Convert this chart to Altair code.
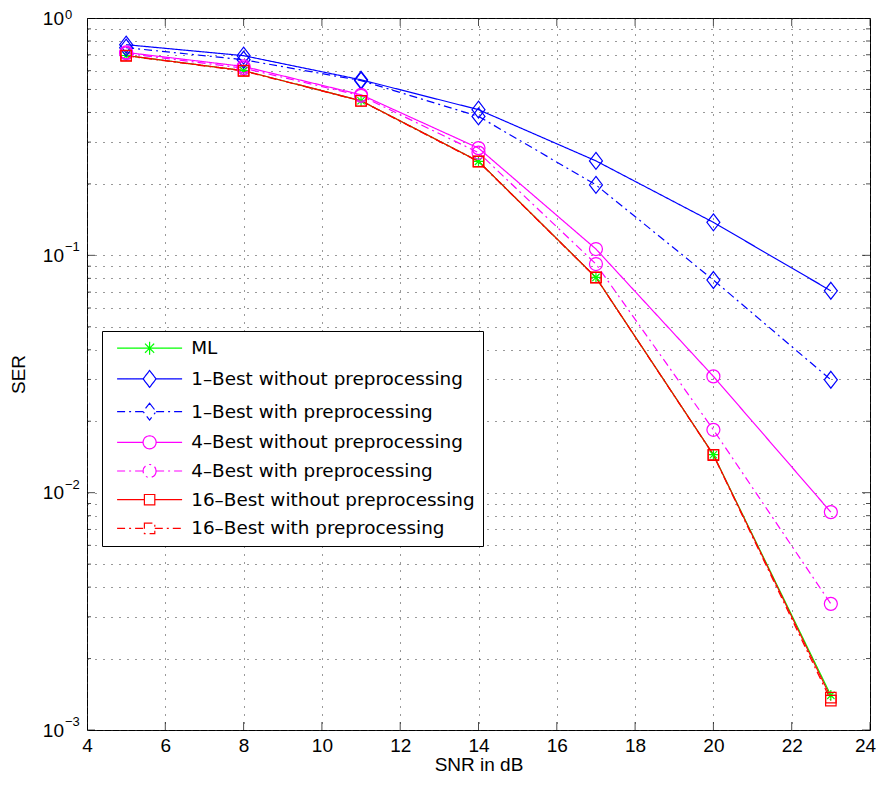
import altair as alt
import pandas as pd

# ---------------- data ----------------
snr = [5, 8, 11, 14, 17, 20, 23]

series_names = [
    "ML",
    "1–Best without preprocessing",
    "1–Best with preprocessing",
    "4–Best without preprocessing",
    "4–Best with preprocessing",
    "16–Best without preprocessing",
    "16–Best with preprocessing",
]
ser_ml = [0.695, 0.600, 0.448, 0.249, 0.0807, 0.01445, 0.00140]
ser_1best_wo = [0.772, 0.694, 0.549, 0.411, 0.250, 0.1377, 0.0709]
ser_1best_w = [0.750, 0.667, 0.545, 0.385, 0.198, 0.0787, 0.0299]
ser_4best_wo = [0.716, 0.625, 0.475, 0.283, 0.1063, 0.0309, 0.00828]
ser_4best_w = [0.710, 0.615, 0.470, 0.271, 0.0919, 0.0184, 0.0034]
ser_16best_wo = [0.695, 0.600, 0.448, 0.249, 0.0807, 0.01445, 0.00137]
ser_16best_w = [0.693, 0.598, 0.447, 0.248, 0.0805, 0.01440, 0.00133]
series_values = [ser_ml, ser_1best_wo, ser_1best_w, ser_4best_wo,
                 ser_4best_w, ser_16best_wo, ser_16best_w]

x_ticks = [4, 6, 8, 10, 12, 14, 16, 18, 20, 22, 24]
y_decades = [1, 0.1, 0.01, 0.001]
y_decade_base = "10"
y_decade_exponents = ["0", "−1", "−2", "−3"]
y_minor = [0.002, 0.003, 0.004, 0.005, 0.006, 0.007, 0.008, 0.009,
           0.02, 0.03, 0.04, 0.05, 0.06, 0.07, 0.08, 0.09,
           0.2, 0.3, 0.4, 0.5, 0.6, 0.7, 0.8, 0.9]

# ---------------- styles ----------------
series_colors = ["#00ff00", "#0000ff", "#0000ff", "#ff00ff", "#ff00ff", "#ff0000", "#ff0000"]
solid = [1, 0]
dashdot = [8, 4, 2, 4]
series_dash = [solid, solid, dashdot, solid, dashdot, solid, dashdot]
series_marker = ["asterisk", "diamond", "diamond", "circle", "circle", "square", "square"]

marker_paths = {
    "asterisk": "M-1,0H1M0,-1V1M-0.7,-0.7L0.7,0.7M-0.7,0.7L0.7,-0.7",
    "diamond": "M0,-1.3L1,0L0,1.3L-1,0Z",
    "circle": "circle",
    "square": "square",
}
marker_sizes = {"asterisk": 110, "diamond": 169, "circle": 169, "square": 110}

legend_paths = {
    "asterisk": "M-1,0H9M3,0H5M4,-1V1M3.3,-0.7L4.7,0.7M3.3,0.7L4.7,-0.7",
    "diamond": "M-1,0H3M5,0H9M4,-1.3L5,0L4,1.3L3,0Z",
    "circle": "M-1,0H3M5,0H9M5,0A1,1,0,1,1,3,0A1,1,0,1,1,5,0Z",
    "square": "M-1,0H3.2M4.8,0H9M3.2,-0.8H4.8V0.8H3.2Z",
}

W, H = 783, 712
TICK_FONT = "Liberation Sans"
LEG_FONT = "DejaVu Sans"

rows = []
for name, vals in zip(series_names, series_values):
    for s, v in zip(snr, vals):
        rows.append({"snr": s, "ser": v, "series": name})
df = pd.DataFrame(rows)

# ---------------- scales / axes ----------------
x_scale = alt.Scale(domain=[4, 24], nice=False, zero=False)
y_scale = alt.Scale(type="log", domain=[0.001, 1], nice=False)

base_expr = " : ".join(
    f"datum.value == {v} ? '{y_decade_base}'" for v in y_decades
) + " : ''"
exp_expr = " : ".join(
    f"datum.value == {v} ? '{e}'" for v, e in zip(y_decades, y_decade_exponents)
) + " : ''"

x_axis = alt.Axis(
    values=x_ticks, title="SNR in dB", grid=True, gridDash=[1, 7], gridColor="#333",
    gridWidth=1, domain=False, ticks=False, labelFont=TICK_FONT, labelFontSize=19,
    labelColor="black", labelPadding=6, labelFlush=False, labelOverlap=False,
    labelOffset={"condition": {"test": "datum.value == 24", "value": -5}, "value": 0},
    titleFont=TICK_FONT, titleFontSize=19, titleFontWeight="normal",
    titleColor="black", titlePadding=0,
)
y_axis = alt.Axis(
    values=y_decades + y_minor, labelExpr=base_expr, title="SER", grid=True,
    gridDash=[1, 7], gridColor="#333", gridWidth=1, domain=False, ticks=False,
    labelFont=TICK_FONT, labelFontSize=19, labelColor="black", labelPadding=23.5,
    labelAlign="right", labelFlush=False, labelOverlap=False, titleFont=TICK_FONT,
    titleFontSize=19, titleFontWeight="normal", titleColor="black", titlePadding=14,
)
y_exp_axis = alt.Axis(
    orient="left", values=y_decades, labelExpr=exp_expr, title=None, grid=False,
    domain=False, ticks=False, labelFont=TICK_FONT, labelFontSize=13,
    labelColor="black", labelPadding=22.5, labelAlign="left", labelBaseline="middle",
    labelOffset={"condition": {"test": "datum.value == 1", "value": -3.5}, "value": -8.5},
    labelFlush=False, labelOverlap=False,
)

x_enc = alt.X("snr:Q", scale=x_scale, axis=x_axis)
y_enc = alt.Y("ser:Q", scale=y_scale, axis=y_axis)

color_scale = alt.Scale(domain=series_names, range=series_colors)
dash_scale = alt.Scale(domain=series_names, range=series_dash)
shape_scale = alt.Scale(domain=series_names,
                        range=[legend_paths[m] for m in series_marker])

leg = alt.Legend(
    title=None, orient="none", legendX=15, legendY=313, direction="vertical",
    padding=8, strokeColor="black", fillColor="white", cornerRadius=0,
    symbolSize=169, symbolStrokeWidth=1.2, symbolOffset=4.4, symbolOpacity=1,
    symbolFillColor="transparent", labelFont=LEG_FONT, labelFontSize=18.4,
    labelColor="black", labelOffset=58.4, rowPadding=9.7, labelLimit=0,
)

base = alt.Chart(df)

line_layers = []
point_layers = []
for name, col, dash, mk in zip(series_names, series_colors, series_dash, series_marker):
    sub = base.transform_filter(alt.datum.series == name)
    line_layers.append(
        sub.mark_line(color=col, strokeDash=dash, strokeWidth=1.2, clip=True)
        .encode(x=x_enc, y=y_enc)
    )
    point_layers.append(
        sub.mark_point(shape=marker_paths[mk], size=marker_sizes[mk], filled=False,
                       color=col, strokeWidth=1.2, opacity=1, clip=True)
        .encode(x=x_enc, y=y_enc)
    )

legend_layer = base.mark_point(opacity=0, filled=False).encode(
    x=x_enc, y=y_enc,
    color=alt.Color("series:N", scale=color_scale, legend=leg),
    shape=alt.Shape("series:N", scale=shape_scale, legend=leg),
    strokeDash=alt.StrokeDash("series:N", scale=dash_scale, legend=leg),
)

# inward tick marks (MATLAB style)
xt = alt.Chart(pd.DataFrame({"snr": x_ticks}))
yt_major = alt.Chart(pd.DataFrame({"ser": y_decades}))
yt_minor = alt.Chart(pd.DataFrame({"ser": y_minor}))
tick_layers = [
    xt.mark_tick(color="black", thickness=1, size=16, clip=True).encode(x=x_enc, y=alt.value(H)),
    xt.mark_tick(color="black", thickness=1, size=16, clip=True).encode(x=x_enc, y=alt.value(0)),
    yt_major.mark_tick(color="black", thickness=1, size=16, clip=True).encode(y=y_enc, x=alt.value(W)),
    yt_minor.mark_tick(color="black", thickness=1, size=8, clip=True).encode(y=y_enc, x=alt.value(0)),
    yt_minor.mark_tick(color="black", thickness=1, size=8, clip=True).encode(y=y_enc, x=alt.value(W)),
]

main = alt.layer(*tick_layers, *line_layers, *point_layers, legend_layer)

# left major ticks carry a second (overlaid) left axis drawing the exponents
exp_layer = yt_major.mark_tick(color="black", thickness=1, size=16, clip=True).encode(
    y=alt.Y("ser:Q", scale=y_scale, axis=y_exp_axis), x=alt.value(0)
)

chart = alt.layer(main, exp_layer).resolve_scale(y="independent").properties(
    width=W, height=H,
    autosize=alt.AutoSizeParams(type="none"),
    padding={"left": 79, "top": 10, "right": 6, "bottom": 44},
    background="white",
).configure_view(stroke="black", strokeWidth=1)

chart.save("out.html", embed_options={"renderer": "svg", "actions": False})
